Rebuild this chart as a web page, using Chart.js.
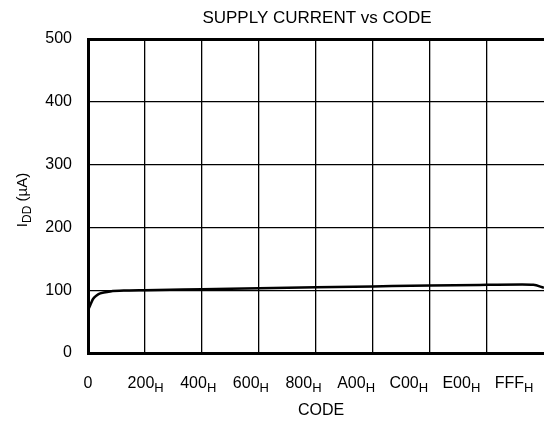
<!DOCTYPE html>
<html><head><meta charset="utf-8">
<script src="https://cdn.jsdelivr.net/npm/chart.js@4"></script>
<style>html,body{margin:0;padding:0;background:#fff}#wrap{width:544px;height:421px;position:relative}</style>
</head><body><div id="wrap"><canvas id="c" width="544" height="421"></canvas></div>
<script>
const codes = [0, 20, 45, 80, 110, 200, 350, 512, 1024, 1536, 2048, 2560, 3072, 3584, 3900, 4000, 4095];
const idd   = [68, 76, 86, 92, 95, 98, 99.5, 100, 101.5, 103, 104.5, 106, 107.5, 108.5, 109, 108.5, 104];
const xTickMain = ['0','200','400','600','800','A00','C00','E00','FFF'];
const xTickSub  = ['','H','H','H','H','H','H','H','H'];
const yTicks = [0,100,200,300,400,500];
const titleText = 'SUPPLY CURRENT vs CODE';
const xTitle = 'CODE';
const yTitleMain = 'I', yTitleSub = 'DD', yTitleRest = ' (\u00B5A)';
const FONT = '"Liberation Sans", Arial, sans-serif';

const textPlugin = {
  id: 'texts',
  afterDraw(chart) {
    const ctx = chart.ctx, a = chart.chartArea, xs = chart.scales.x;
    ctx.save();
    ctx.fillStyle = '#000';
    // title
    ctx.font = '17px ' + FONT;
    ctx.textAlign = 'center'; ctx.textBaseline = 'middle';
    ctx.fillText(titleText, (a.left + a.right) / 2 + 1, 18);
    // x tick labels
    ctx.textBaseline = 'alphabetic';
    const n = xTickMain.length;
    for (let i = 0; i < n; i++) {
      const cx = i === 0 ? xs.left : xs.left + 5 + i * (xs.width - 35) / (n - 1);
      ctx.font = '16px ' + FONT;
      const w1 = ctx.measureText(xTickMain[i]).width;
      ctx.font = '13px ' + FONT;
      const w2 = ctx.measureText(xTickSub[i]).width;
      const x0 = cx - (w1 + w2) / 2;
      ctx.textAlign = 'left';
      ctx.font = '16px ' + FONT;
      ctx.fillText(xTickMain[i], x0, 388);
      ctx.font = '13px ' + FONT;
      ctx.fillText(xTickSub[i], x0 + w1, 391.5);
    }
    // x title
    ctx.font = '16px ' + FONT;
    ctx.textAlign = 'center';
    ctx.textBaseline = 'middle';
    ctx.fillText(xTitle, (a.left + a.right) / 2 + 5, 411);
    // y title
    ctx.textBaseline = 'alphabetic';
    ctx.translate(27, 200);
    ctx.rotate(-Math.PI / 2);
    ctx.font = '15px ' + FONT;
    const m1 = ctx.measureText(yTitleMain).width;
    const m3 = ctx.measureText(yTitleRest).width;
    ctx.font = '12px ' + FONT;
    const m2 = ctx.measureText(yTitleSub).width;
    let x = -(m1 + m2 + m3) / 2;
    ctx.textAlign = 'left';
    ctx.font = '15px ' + FONT;
    ctx.fillText(yTitleMain, x, 0); x += m1;
    ctx.font = '12px ' + FONT;
    ctx.fillText(yTitleSub, x, 3.5); x += m2;
    ctx.font = '15px ' + FONT;
    ctx.fillText(yTitleRest, x, 0);
    ctx.restore();
  }
};

new Chart(document.getElementById('c'), {
  type: 'line',
  data: { datasets: [{
    data: codes.map((c, i) => ({ x: c, y: idd[i] })),
    borderColor: '#000', borderWidth: 2.5, pointRadius: 0,
    cubicInterpolationMode: 'monotone', fill: false
  }]},
  options: {
    responsive: false, animation: false, devicePixelRatio: 1,
    layout: { padding: { top: 39, left: 0, right: 0, bottom: 0 } },
    plugins: { legend: { display: false }, title: { display: false }, tooltip: { enabled: false } },
    scales: {
      x: {
        type: 'linear', min: 0, max: 4096,
        afterBuildTicks: s => { s.ticks = []; for (let v = 0; v <= 4096; v += 512) s.ticks.push({ value: v }); },
        ticks: { display: false },
        grid: { drawTicks: false, color: ctx => (ctx.tick && ctx.tick.value === 4096) ? 'rgba(0,0,0,0)' : '#000', lineWidth: 1.3 },
        border: { display: true, color: '#000', width: 3 },
        afterFit: s => { s.height = 68; }
      },
      y: {
        min: 0, max: 500,
        afterBuildTicks: s => { s.ticks = yTicks.map(v => ({ value: v })); },
        ticks: { color: '#000', font: { size: 16, family: FONT }, padding: 16 },
        grid: { drawTicks: false, color: '#000', lineWidth: ctx => (ctx.tick && ctx.tick.value === 500) ? 3 : 1.3 },
        border: { display: true, color: '#000', width: 3 },
        afterFit: s => { s.width = 88; }
      }
    }
  },
  plugins: [textPlugin]
});
</script></body></html>
